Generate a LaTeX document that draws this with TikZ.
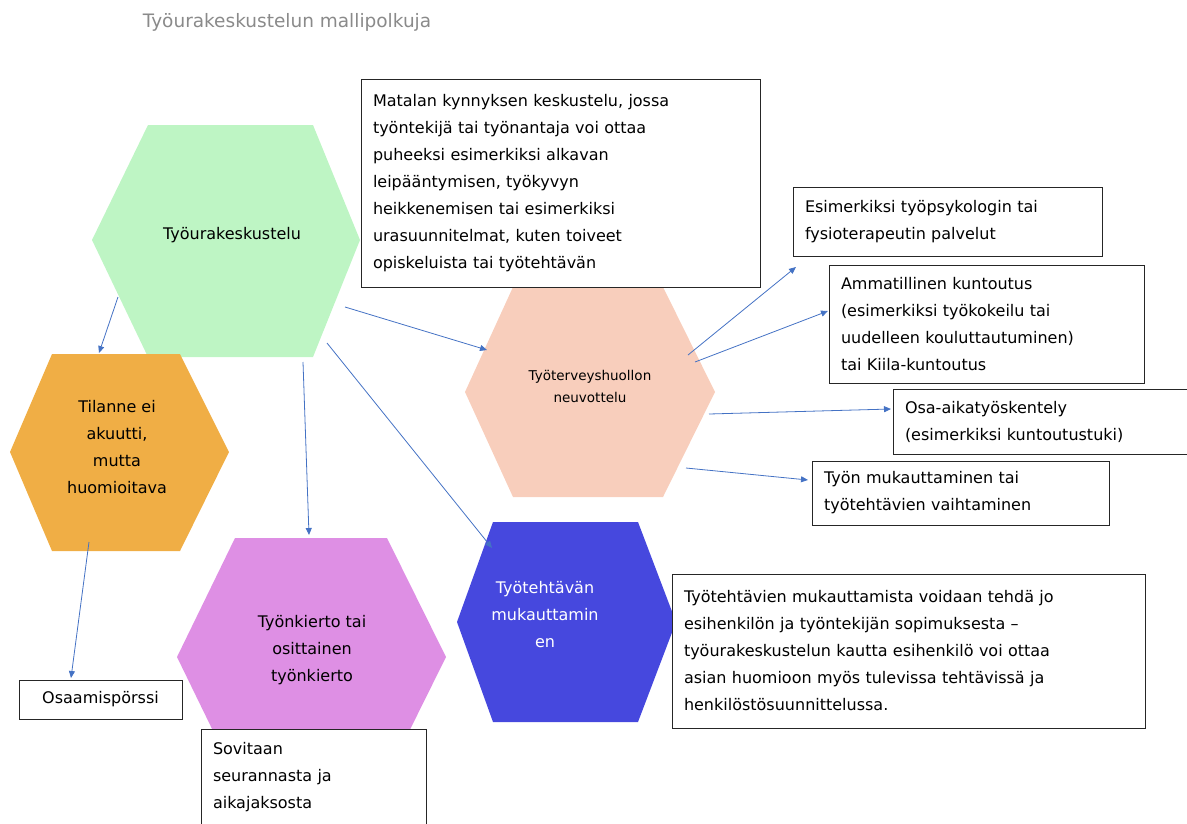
\documentclass[tikz,border=0pt]{standalone}
\usepackage{fontspec}
\setmainfont{DejaVu Sans}
\usetikzlibrary{arrows.meta}

\definecolor{hexgreen}{RGB}{190,245,196}
\definecolor{hexorange}{RGB}{240,174,69}
\definecolor{hexpeach}{RGB}{248,206,188}
\definecolor{hexviolet}{RGB}{222,143,228}
\definecolor{hexblue}{RGB}{70,72,222}
\definecolor{flowblue}{RGB}{68,114,196}
\definecolor{titlegray}{RGB}{138,138,138}

\newcommand\txtfont{\fontsize{16}{27}\selectfont}
\newcommand\smallfont{\fontsize{13.5}{22}\selectfont}

\begin{document}
\begin{tikzpicture}[x=1pt,y=-1pt,
  hexlabel/.style={align=center,font=\txtfont,inner sep=0pt},
  infobox/.style={draw=black!85,fill=white,line width=1pt,align=left,
    inner xsep=12pt,inner ysep=0pt,font=\txtfont},
  flow/.style={draw=flowblue,line width=0.8pt,-{Triangle[length=7pt,width=6pt]}}]
\useasboundingbox (0,0) rectangle (1187,823);

% heading
\node[font=\fontsize{18.5}{22}\selectfont,text=titlegray] (title) at (287,22) {Työurakeskustelun mallipolkuja};

% hexagons
\fill[hexgreen]  (148,125) -- (313,125) -- (360,240) -- (313,357) -- (148,357) -- (92,240) -- cycle;
\fill[hexorange] (52,354) -- (180,354) -- (229,452) -- (180,551) -- (52,551) -- (10,452) -- cycle;
\fill[hexpeach]  (513,287) -- (663,287) -- (715,392) -- (663,497) -- (513,497) -- (465,392) -- cycle;
\fill[hexviolet] (235,538) -- (387,538) -- (446,657) -- (387,776) -- (235,776) -- (177,657) -- cycle;
\fill[hexblue]   (493,522) -- (638,522) -- (676,622) -- (638,722) -- (493,722) -- (457,622) -- cycle;

\node[hexlabel] (talk) at (232,235) {Työurakeskustelu};
\node[hexlabel] (notacute) at (117,447) {Tilanne ei\\akuutti,\\mutta\\huomioitava};
\node[hexlabel,font=\smallfont] (ohc) at (590,386) {Työterveyshuollon\\neuvottelu};
\node[hexlabel] (rotation) at (312,650) {Työnkierto tai\\osittainen\\työnkierto};
\node[hexlabel,text=white] (adapt) at (545,615) {Työtehtävän\\mukauttamin\\en};

% text boxes
\node[infobox,text width=375,minimum height=208] (lowthr) at (560.5,183)
  {Matalan kynnyksen keskustelu, jossa\\työntekijä tai työnantaja voi ottaa\\puheeksi esimerkiksi alkavan\\leipääntymisen, työkyvyn\\heikkenemisen tai esimerkiksi\\urasuunnitelmat, kuten toiveet\\opiskeluista tai työtehtävän};
\node[infobox,text width=285,minimum height=69] (psych) at (947.5,221.5)
  {Esimerkiksi työpsykologin tai\\fysioterapeutin palvelut};
\node[infobox,text width=291,minimum height=118] (rehab) at (986.5,324)
  {Ammatillinen kuntoutus\\(esimerkiksi työkokeilu tai\\uudelleen kouluttautuminen)\\tai Kiila-kuntoutus};
\node[infobox,text width=278,minimum height=65] (parttime) at (1044,421.5)
  {Osa-aikatyöskentely\\(esimerkiksi kuntoutustuki)};
\node[infobox,text width=273,minimum height=64] (modify) at (960.5,493)
  {Työn mukauttaminen tai\\työtehtävien vaihtaminen};
\node[infobox,text width=449,minimum height=154] (tasks) at (908.5,651)
  {Työtehtävien mukauttamista voidaan tehdä jo\\esihenkilön ja työntekijän sopimuksesta –\\työurakeskustelun kautta esihenkilö voi ottaa\\asian huomioon myös tulevissa tehtävissä ja\\henkilöstösuunnittelussa.};
\node[infobox,align=center,text width=139,minimum height=39] (skills) at (100.5,699.5)
  {Osaamispörssi};
\node[infobox,text width=201,minimum height=120] (followup) at (313.5,789)
  {Sovitaan\\seurannasta ja\\aikajaksosta\\\mbox{}};

% connector end points
\coordinate (talkA) at (118,297);
\coordinate (talkB) at (345,307);
\coordinate (talkC) at (303,362);
\coordinate (talkD) at (327,343);
\coordinate (notacuteA) at (89,542);
\coordinate (ohcA) at (688,355);
\coordinate (ohcB) at (695,362);
\coordinate (ohcC) at (709,414);
\coordinate (ohcD) at (686,468);
\coordinate (notacuteTop) at (99,353);
\coordinate (ohcLeft) at (487,350);
\coordinate (rotationTop) at (309,535);
\coordinate (adaptTop) at (492,548);
\coordinate (skillsTop) at (71,678);
\coordinate (psychIn) at (796,267);
\coordinate (rehabIn) at (828,311);
\coordinate (parttimeIn) at (891,409);
\coordinate (modifyIn) at (808,480);

% connectors
\draw[flow] (talkA) -- (notacuteTop);
\draw[flow] (talkB) -- (ohcLeft);
\draw[flow] (talkC) -- (rotationTop);
\draw[flow] (talkD) -- (adaptTop);
\draw[flow] (notacuteA) -- (skillsTop);
\draw[flow] (ohcA) -- (psychIn);
\draw[flow] (ohcB) -- (rehabIn);
\draw[flow] (ohcC) -- (parttimeIn);
\draw[flow] (ohcD) -- (modifyIn);
\end{tikzpicture}
\end{document}
